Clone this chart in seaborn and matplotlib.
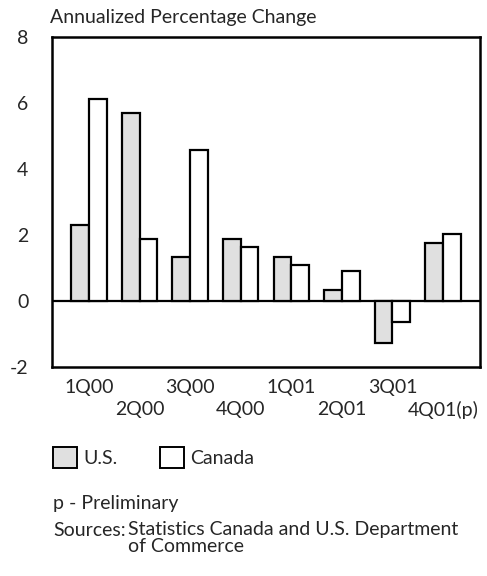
import pandas as pd
import numpy as np
import seaborn as sns
import matplotlib.pyplot as plt
from matplotlib.patches import Patch

# data
quarters = ['1Q00', '2Q00', '3Q00', '4Q00', '1Q01', '2Q01', '3Q01', '4Q01(p)']
us = [2.3, 5.7, 1.33, 1.89, 1.33, 0.32, -1.28, 1.77]
canada = [6.12, 1.89, 4.57, 1.64, 1.08, 0.91, -0.65, 2.04]
yticks = [-2, 0, 2, 4, 6, 8]

df = pd.DataFrame({
    'quarter': quarters * 2,
    'value': us + canada,
    'country': ['U.S.'] * len(quarters) + ['Canada'] * len(quarters),
})

sns.set_style('white')
plt.rcParams['font.family'] = ['Lato', 'DejaVu Sans']
fs = 14

colors = {'U.S.': '#e0e0e0', 'Canada': 'white'}

fig = plt.figure(figsize=(4.87, 5.76), dpi=100)
ax = fig.add_axes([52 / 487, 1 - 367 / 576, 428 / 487, 330 / 576])

sns.barplot(data=df, x='quarter', y='value', hue='country', palette=colors,
            edgecolor='black', linewidth=1.6, width=0.7, ax=ax, legend=False,
            saturation=1)

ax.axhline(0, color='black', linewidth=1.6, zorder=0.5)
ax.set_ylim(-2, 8)
ax.set_xlim(-0.73, 7.73)
ax.set_yticks(yticks)
ax.set_yticklabels([str(t) for t in yticks], fontsize=fs)
ax.set_xlabel('')
ax.set_ylabel('')
for s in ax.spines.values():
    s.set_color('black')
    s.set_linewidth(1.8)
ax.tick_params(axis='y', direction='out', length=11, width=1.8, pad=6, color='black')
ax.tick_params(axis='x', length=0, pad=9, labelsize=fs)
for lbl in ax.get_xticklabels()[1::2]:
    lbl.set_y(-0.066)

fig.text(50 / 487, 1 - 17 / 576, 'Annualized Percentage Change', fontsize=fs, va='center')

handles = [Patch(facecolor=colors[k], edgecolor='black', linewidth=1.4, label=k)
           for k in ['U.S.', 'Canada']]
fig.legend(handles=handles, loc='upper left', bbox_to_anchor=(53 / 487, 1 - 447 / 576),
           ncol=2, frameon=False, fontsize=fs, borderpad=0, borderaxespad=0,
           handlelength=1.25, handleheight=1.25, handletextpad=0.3, columnspacing=2.2)

fig.text(53 / 487, 1 - 503 / 576, 'p - Preliminary', fontsize=fs, va='center')
fig.text(53 / 487, 1 - 530 / 576, 'Sources:', fontsize=fs, va='center')
fig.text(128 / 487, 1 - 530 / 576, 'Statistics Canada and U.S. Department',
         fontsize=fs, va='center')
fig.text(128 / 487, 1 - 547 / 576, 'of Commerce', fontsize=fs, va='center')

fig.savefig('out.png', dpi=100)
